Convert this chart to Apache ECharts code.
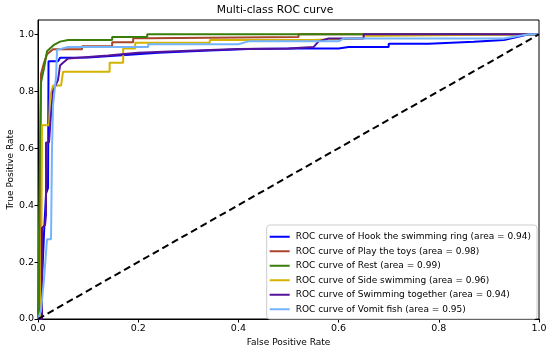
<!DOCTYPE html>
<html><head><meta charset="utf-8">
<script src="https://cdn.jsdelivr.net/npm/echarts@6/dist/echarts.min.js"></script>
<style>html,body{margin:0;padding:0;background:#fff}#c{width:550px;height:351px}</style>
</head><body><div id="c"></div>
<script>
const xTicks = [0, 0.2, 0.4, 0.6, 0.8, 1.0];
const yTicks = [0, 0.2, 0.4, 0.6, 0.8, 1.0];
const classNames = ["Hook the swimming ring", "Play the toys", "Rest", "Side swimming", "Swimming together", "Vomit fish"];
const aucValues = ["0.94", "0.98", "0.99", "0.96", "0.94", "0.95"];
const hookRoc = [[0,0],[0.006,0.05],[0.012,0.3],[0.016,0.44],[0.02,0.46],[0.021,0.905],[0.04,0.905],[0.044,0.917],[0.1,0.918],[0.16,0.925],[0.24,0.935],[0.33,0.942],[0.42,0.948],[0.52,0.95],[0.6,0.95],[0.62,0.955],[0.7,0.955],[0.7,0.967],[0.78,0.967],[0.78,0.974],[0.87,0.974],[0.87,0.98],[0.93,0.98],[0.98,1],[1,1]];
const toysRoc = [[0,0],[0.004,0],[0.004,0.5],[0.006,0.86],[0.012,0.9],[0.018,0.93],[0.03,0.947],[0.088,0.947],[0.088,0.958],[0.148,0.958],[0.148,0.972],[0.19,0.972],[0.19,0.986],[0.22,0.986],[0.22,0.99],[0.52,0.99],[0.52,1],[1,1]];
const restRoc = [[0,0],[0.002,0.3],[0.006,0.83],[0.012,0.88],[0.018,0.94],[0.032,0.963],[0.044,0.974],[0.06,0.98],[0.148,0.98],[0.148,0.99],[0.218,0.99],[0.218,1],[1,1]];
const sideRoc = [[0,0],[0.006,0],[0.008,0.68],[0.022,0.68],[0.024,0.78],[0.03,0.82],[0.046,0.82],[0.05,0.868],[0.143,0.868],[0.143,0.9],[0.17,0.9],[0.17,0.95],[0.194,0.95],[0.194,0.97],[0.343,0.97],[0.343,0.98],[0.55,0.98],[0.55,0.986],[0.65,0.986],[0.65,0.995],[0.68,0.995],[0.68,1],[1,1]];
const togetherRoc = [[0,0],[0.008,0],[0.008,0.32],[0.014,0.33],[0.016,0.365],[0.016,0.62],[0.022,0.62],[0.026,0.72],[0.03,0.8],[0.04,0.84],[0.044,0.89],[0.05,0.9],[0.06,0.915],[0.14,0.925],[0.2,0.935],[0.3,0.942],[0.4,0.948],[0.5,0.95],[0.55,0.955],[0.56,0.975],[0.58,0.985],[0.65,0.985],[0.65,1],[1,1]];
const vomitRoc = [[0,0],[0.006,0.03],[0.012,0.14],[0.018,0.28],[0.026,0.28],[0.028,0.6],[0.03,0.75],[0.036,0.85],[0.038,0.945],[0.06,0.955],[0.22,0.955],[0.22,0.965],[0.4,0.965],[0.42,0.975],[0.6,0.975],[0.61,0.985],[0.93,0.985],[0.98,1],[1,1]];
const chanceLine = [[0,0],[1,1]];

const curves = [hookRoc, toysRoc, restRoc, sideRoc, togetherRoc, vomitRoc];
const colors = ['#0000ff', '#a8452a', '#3b7d0b', '#d4b400', '#55129a', '#74b4ff'];
const FONT = 'DejaVu Sans';
const chart = echarts.init(document.getElementById('c'), null, {renderer: 'canvas'});
const names = classNames.map((n, i) => 'ROC curve of ' + n + ' (area = ' + aucValues[i] + ')');
const series = curves.map((d, i) => ({
  name: names[i], type: 'line', data: d, showSymbol: false, symbol: 'none',
  lineStyle: {color: colors[i], width: 2}, itemStyle: {color: colors[i]}, animation: false
}));
series.push({type: 'line', data: chanceLine, showSymbol: false, symbol: 'none',
  lineStyle: {color: '#000', width: 2, type: [7, 4]}, animation: false});
chart.setOption({
  animation: false,
  title: {text: 'Multi-class ROC curve', left: 'center', top: 0,
    textStyle: {fontFamily: FONT, fontSize: 10.7, fontWeight: 'normal', color: '#000'}},
  grid: {left: 38, right: 11, top: 20, bottom: 32, containLabel: false, outerBoundsMode: 'none',
    show: true, borderColor: '#000', borderWidth: 1},
  legend: {
    data: names.map((n, i) => ({name: n, icon: 'rect'})),
    orient: 'vertical', right: 13, bottom: 32, itemWidth: 20, itemHeight: 2, itemGap: 3,
    padding: [6, 6, 4, 3], backgroundColor: 'rgba(255,255,255,0.85)', borderColor: '#ccc', borderWidth: 1, borderRadius: 3,
    textStyle: {fontFamily: FONT, fontSize: 9, color: '#000', lineHeight: 11.5, padding: [0, 0, 0, 1]}
  },
  xAxis: {type: 'value', min: 0, max: 1, interval: 0.2,
    name: 'False Positive Rate', nameLocation: 'middle', nameGap: 19, nameMoveOverlap: false,
    nameTextStyle: {fontFamily: FONT, fontSize: 9, color: '#000'},
    axisLine: {show: true, lineStyle: {color: '#000'}},
    axisTick: {show: true, inside: false, length: 3.5, lineStyle: {color: '#000'}},
    axisLabel: {fontFamily: FONT, fontSize: 9.5, color: '#000', margin: 5, formatter: v => xTicks.includes(+v.toFixed(1)) ? v.toFixed(1) : ''},
    splitLine: {show: false}},
  yAxis: {type: 'value', min: 0, max: 1.05, interval: 0.2,
    name: 'True Positive Rate', nameLocation: 'middle', nameGap: 23, nameMoveOverlap: false,
    nameTextStyle: {fontFamily: FONT, fontSize: 9, color: '#000'},
    axisLine: {show: true, lineStyle: {color: '#000'}},
    axisTick: {show: true, inside: false, length: 3.5, lineStyle: {color: '#000'}},
    axisLabel: {fontFamily: FONT, fontSize: 9.5, color: '#000', margin: 4, showMaxLabel: false, formatter: v => yTicks.includes(+v.toFixed(1)) && v <= 1.0001 ? v.toFixed(1) : ''},
    splitLine: {show: false}},
  series: series
});
</script></body></html>
